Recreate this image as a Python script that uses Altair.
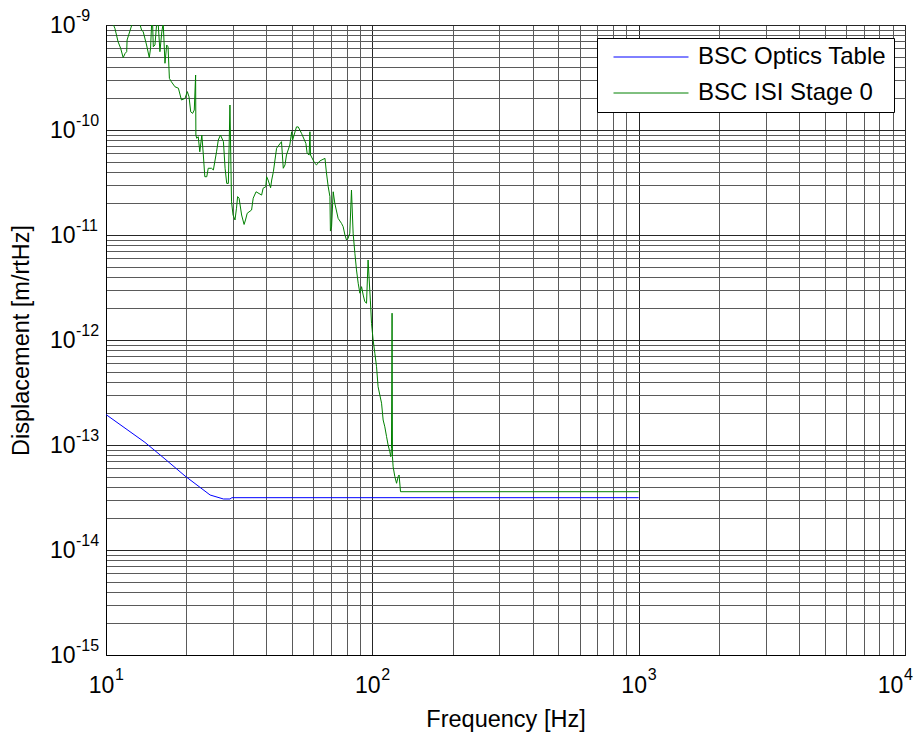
import altair as alt
import pandas as pd

# ---- data (frequency in Hz, displacement in m/rtHz) ----
optics_freq = [10.0, 14.0, 16.65, 19.8, 24.6, 27.6, 29.2, 29.7, 1000.0]
optics_disp = [1.95e-13, 1.06e-13, 7.36e-14, 5.07e-14, 3.34e-14, 3.06e-14, 3.06e-14, 3.15e-14, 3.15e-14]

stage0_freq = [
    10.0, 10.6, 10.8, 11.1, 11.35, 11.6, 11.8, 11.96, 12.0, 12.5,
    12.66, 13.04, 13.4, 13.6, 13.8, 14.2, 14.54, 14.7, 14.84, 14.96,
    15.05, 15.27, 15.5, 15.7, 15.94, 16.2, 16.4, 16.65, 16.9, 17.1,
    17.3, 17.6, 18.15, 18.7, 19.2, 19.8, 20.2, 20.5, 20.8, 21.15,
    21.45, 21.7, 21.75, 21.9, 22.2, 22.5, 22.9, 23.2, 23.5, 23.9,
    24.2, 24.9, 25.3, 26.0, 26.4, 26.9, 27.6, 28.0, 28.4, 28.8,
    29.2, 29.6, 30.0, 30.5, 30.9, 31.2, 31.6, 32.3, 33.0, 33.4,
    33.9, 35.2, 35.7, 36.6, 38.4, 38.9, 39.8, 40.1, 40.6, 41.5,
    41.9, 42.5, 43.7, 45.6, 46.3, 47.0, 47.6, 49.0, 49.8, 50.2,
    51.9, 52.7, 54.2, 56.3, 56.9, 57.9, 58.3, 58.6, 60.8, 61.7,
    63.5, 66.4, 67.2, 68.3, 69.3, 69.6, 70.3, 71.3, 72.3, 74.4,
    76.6, 77.7, 78.9, 80.0, 81.1, 82.3, 83.5, 84.7, 86.0, 87.2,
    88.5, 89.8, 91.1, 92.4, 93.7, 95.1, 96.4, 98.3, 99.3, 100.7,
    102.2, 103.7, 105.1, 106.7, 108.3, 109.8, 111.4, 113.1, 114.6, 116.3,
    117.3, 118.0, 118.6, 119.0, 119.7, 121.5, 123.3, 125.0, 126.0, 127.6,
    1000.0,
]
stage0_disp = [
    1.07e-9, 1.04e-9, 9.3e-10, 6.93e-10, 6.0e-10, 4.89e-10, 5.37e-10, 5.57e-10, 7.2e-10, 1.0e-9,
    1.04e-9, 1.04e-9, 1.02e-9, 8.96e-10, 8.6e-10, 6.45e-10, 4.89e-10, 6.0e-10, 1.04e-9, 1.04e-9,
    6.2e-10, 6.45e-10, 1.04e-9, 1.04e-9, 5.57e-10, 8.6e-10, 1.04e-9, 4.32e-10, 6.45e-10, 6.2e-10,
    3.1e-10, 2.88e-10, 2.58e-10, 2.5e-10, 1.93e-10, 2.0e-10, 2.32e-10, 2.07e-10, 1.49e-10, 1.44e-10,
    1.55e-10, 3.34e-10, 8.96e-11, 8.34e-11, 8.63e-11, 6.2e-11, 8.96e-11, 5.78e-11, 3.59e-11, 3.59e-11,
    4.32e-11, 4.32e-11, 4.16e-11, 6.2e-11, 8.03e-11, 8.96e-11, 7.74e-11, 4.32e-11, 3.1e-11, 3.1e-11,
    1.73e-10, 2.07e-11, 1.55e-11, 1.39e-11, 1.8e-11, 2.32e-11, 2.24e-11, 1.55e-11, 1.26e-11, 1.39e-11,
    1.61e-11, 1.73e-11, 2.24e-11, 2.58e-11, 2.4e-11, 2.79e-11, 2.88e-11, 3.59e-11, 3.34e-11, 2.82e-11,
    3.34e-11, 4.0e-11, 6.7e-11, 7.74e-11, 4.32e-11, 4.65e-11, 5.78e-11, 7.2e-11, 9.63e-11, 8.03e-11,
    1.07e-10, 1.07e-10, 9.3e-11, 7.46e-11, 6.0e-11, 5.78e-11, 9.63e-11, 5.78e-11, 4.82e-11, 4.65e-11,
    5.07e-11, 5.37e-11, 3.98e-11, 2.88e-11, 2.32e-11, 1.09e-11, 1.2e-11, 2.58e-11, 2.0e-11, 1.44e-11,
    1.29e-11, 1.2e-11, 1.0e-11, 8.96e-12, 9.3e-12, 1.04e-11, 2.68e-11, 1.04e-11, 6.7e-12, 4.65e-12,
    3.47e-12, 2.79e-12, 3.22e-12, 2.68e-12, 2.32e-12, 2.24e-12, 5.78e-12, 2.4e-12, 1.44e-12, 1.0e-12,
    7.46e-13, 5.57e-13, 3.59e-13, 2.99e-13, 2.5e-13, 1.73e-13, 1.49e-13, 1.2e-13, 1.0e-13, 8.63e-14,
    7.74e-14, 9.3e-14, 1.8e-12, 7.74e-14, 6.2e-14, 4.99e-14, 4.32e-14, 4.99e-14, 5.18e-14, 3.59e-14,
    3.59e-14,
]

series_names = ["BSC Optics Table", "BSC ISI Stage 0"]
series_colors = ["#0000ff", "#008000"]

# tick labels: base "10" plus exponent
x_decades = [10, 100, 1000, 10000]
x_exponents = ["1", "2", "3", "4"]
y_decades = [1e-15, 1e-14, 1e-13, 1e-12, 1e-11, 1e-10, 1e-9]
y_exponents = ["-15", "-14", "-13", "-12", "-11", "-10", "-9"]

# ---- tables ----
rows = []
for f, v in zip(optics_freq, optics_disp):
    rows.append({"freq": f, "disp": v, "series": series_names[0]})
for f, v in zip(stage0_freq, stage0_disp):
    rows.append({"freq": f, "disp": v, "series": series_names[1]})
df = pd.DataFrame(rows)
df["order"] = range(len(df))

x_exp_df = pd.DataFrame({"freq": x_decades[:-1], "exp": x_exponents[:-1]})
x_exp_last_df = pd.DataFrame({"freq": x_decades[-1:], "exp": x_exponents[-1:]})
y_exp_df = pd.DataFrame({"disp": y_decades, "exp": y_exponents})

x_ticks = [m * 10 ** e for e in range(1, 4) for m in range(1, 10)] + [10000]
y_ticks = [m * 10.0 ** e for e in range(-15, -9) for m in range(1, 10)] + [1e-9]

W, H = 799, 630
FONT = "Liberation Sans"
LOG = "log(datum.value)/LN10"
is_major = f"abs({LOG} - round({LOG})) < 0.001"
base_label = f"{is_major} ? '10' : ''"
grid_color = {"condition": {"test": is_major, "value": "#262626"}, "value": "#5a5a5a"}
x_label_off = {"condition": {"test": f"round({LOG}) == 4", "value": -15}, "value": -5}

x_scale = alt.Scale(type="log", domain=[10, 10000], nice=False)
y_scale = alt.Scale(type="log", domain=[1e-15, 1e-9], nice=False)

x_axis = alt.Axis(
    title="Frequency [Hz]",
    values=x_ticks,
    labelExpr=base_label,
    labelOverlap=False,
    labelFlush=False,
    labelFontSize=23,
    labelFont=FONT,
    labelColor="black",
    labelPadding=19,
    labelOffset=x_label_off,
    ticks=False,
    domainColor="black",
    gridColor=grid_color,
    gridOpacity=1,
    gridWidth=1,
    titleFontSize=23.5,
    titleFont=FONT,
    titleFontWeight="normal",
    titleColor="black",
    titlePadding=10,
)
y_axis = alt.Axis(
    title="Displacement [m/rtHz]",
    values=y_ticks,
    labelExpr=base_label,
    labelOverlap=False,
    labelFlush=False,
    labelFontSize=23,
    labelFont=FONT,
    labelColor="black",
    labelPadding=31,
    ticks=False,
    domainColor="black",
    gridColor=grid_color,
    gridOpacity=1,
    gridWidth=1,
    titleFontSize=23.5,
    titleFont=FONT,
    titleFontWeight="normal",
    titleColor="black",
    titlePadding=16,
)

lines = (
    alt.Chart(df)
    .mark_line(clip=True, strokeWidth=1)
    .encode(
        x=alt.X("freq:Q", scale=x_scale, axis=x_axis),
        y=alt.Y("disp:Q", scale=y_scale, axis=y_axis),
        color=alt.Color(
            "series:N",
            scale=alt.Scale(domain=series_names, range=series_colors),
            legend=alt.Legend(
                title=None,
                orient="none",
                legendX=491,
                legendY=13,
                strokeColor="black",
                fillColor="white",
                padding=7,
                rowPadding=12,
                symbolType="M-3.75,0H3.75",
                symbolSize=400,
                symbolStrokeWidth=1,
                symbolOffset=35,
                labelOffset=35,
                labelFontSize=24,
                labelFont=FONT,
                labelColor="black",
                labelLimit=400,
            ),
        ),
        order="order:Q",
    )
)

x_exp = (
    alt.Chart(x_exp_df)
    .mark_text(align="left", baseline="alphabetic", dx=9, fontSize=16, font=FONT, color="black")
    .encode(
        x=alt.X("freq:Q", scale=x_scale, axis=x_axis),
        y=alt.value(H + 25),
        text="exp:N",
    )
)

x_exp_last = (
    alt.Chart(x_exp_last_df)
    .mark_text(align="left", baseline="alphabetic", dx=-1, fontSize=16, font=FONT, color="black")
    .encode(
        x=alt.X("freq:Q", scale=x_scale, axis=x_axis),
        y=alt.value(H + 25),
        text="exp:N",
    )
)

y_exp = (
    alt.Chart(y_exp_df)
    .mark_text(align="left", baseline="alphabetic", dy=-4, fontSize=16, font=FONT, color="black")
    .encode(
        y=alt.Y("disp:Q", scale=y_scale, axis=y_axis),
        x=alt.value(-30),
        text="exp:N",
    )
)

chart = (
    alt.layer(lines, x_exp, x_exp_last, y_exp)
    .properties(
        width=W,
        height=H,
        autosize="none",
        padding={"left": 98, "top": 17, "right": 10, "bottom": 79},
        background="white",
    )
    .configure_view(stroke="black", strokeWidth=1)
)

chart.save("out.html", embed_options={"renderer": "svg", "actions": False})
